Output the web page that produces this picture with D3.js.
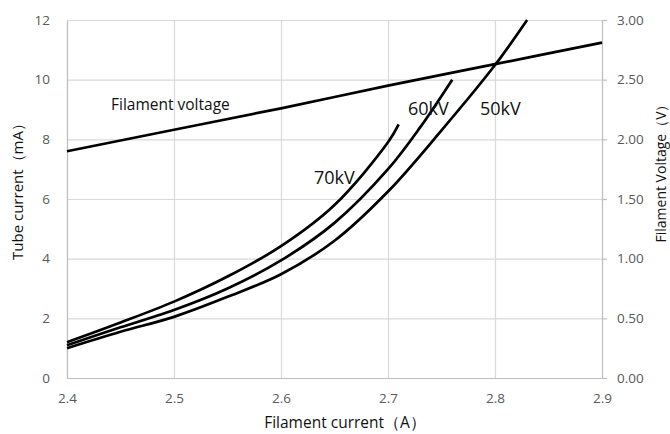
<!DOCTYPE html>
<html>
<head>
<meta charset="utf-8">
<script src="https://cdn.jsdelivr.net/npm/d3@7"></script>
<style>
  html, body { margin: 0; padding: 0; background: #fff; }
  svg text { font-family: "Open Sans", "Noto Sans", sans-serif; }
</style>
</head>
<body>
<svg id="chart" width="670" height="434"></svg>
<script>
// Filament current (A) sample points for each tube voltage
const current70 = [2.40, 2.45, 2.50, 2.55, 2.60, 2.65, 2.70, 2.71];
const tube70    = [1.20, 1.86, 2.56, 3.40, 4.42, 5.80, 7.90, 8.50];

const current60 = [2.40, 2.45, 2.50, 2.55, 2.60, 2.65, 2.70, 2.73, 2.76];
const tube60    = [1.10, 1.70, 2.28, 3.00, 3.94, 5.20, 7.00, 8.40, 10.00];

const current50 = [2.40, 2.45, 2.50, 2.55, 2.60, 2.65, 2.70, 2.75, 2.80, 2.83];
const tube50    = [1.00, 1.55, 2.05, 2.72, 3.48, 4.60, 6.25, 8.30, 10.49, 12.00];

// Filament voltage (V) against filament current
const currentV  = [2.40, 2.50, 2.60, 2.70, 2.80, 2.90];
const voltage   = [1.90, 2.08, 2.26, 2.45, 2.63, 2.81];

const xTicks      = [2.4, 2.5, 2.6, 2.7, 2.8, 2.9];
const yTicks      = [0, 2, 4, 6, 8, 10, 12];
const yRightTicks = [0, 0.5, 1, 1.5, 2, 2.5, 3];

const curveLabels = ["70kV", "60kV", "50kV"];

const svg = d3.select("#chart");
const m = { left: 67, right: 602, top: 20, bottom: 378 };

const x  = d3.scaleLinear().domain([2.4, 2.9]).range([m.left, m.right]);
const y  = d3.scaleLinear().domain([0, 12]).range([m.bottom, m.top]);
const yR = d3.scaleLinear().domain([0, 3]).range([m.bottom, m.top]);

const gridColor = "#d9d9d9";
const tickColor = "#595959";

// horizontal gridlines
svg.append("g")
  .attr("transform", `translate(${m.left},0)`)
  .call(d3.axisLeft(y).tickValues(yTicks).tickSize(-(m.right - m.left)).tickFormat(""))
  .call(g => g.select(".domain").remove())
  .call(g => g.selectAll("line").attr("stroke", gridColor).attr("stroke-width", 1.2));

// vertical gridlines
svg.append("g")
  .attr("transform", `translate(0,${m.bottom})`)
  .call(d3.axisBottom(x).tickValues(xTicks).tickSize(-(m.bottom - m.top)).tickFormat(""))
  .call(g => g.select(".domain").remove())
  .call(g => g.selectAll("line").attr("stroke", gridColor).attr("stroke-width", 1.2));

// left axis
svg.append("g")
  .attr("transform", `translate(${m.left},0)`)
  .call(d3.axisLeft(y).tickValues(yTicks).tickSize(0).tickPadding(17).tickFormat(d3.format("d")))
  .call(g => g.select(".domain").attr("stroke", "#bfbfbf").attr("stroke-width", 1.2))
  .call(g => g.selectAll("text").attr("fill", tickColor).attr("font-size", 13.5));

// bottom axis
svg.append("g")
  .attr("transform", `translate(0,${m.bottom})`)
  .call(d3.axisBottom(x).tickValues(xTicks).tickSize(0).tickPadding(15).tickFormat(d3.format(".1f")))
  .call(g => g.select(".domain").attr("stroke", "#bfbfbf").attr("stroke-width", 1.2))
  .call(g => g.selectAll("text").attr("fill", tickColor).attr("font-size", 13.5));

// right axis
svg.append("g")
  .attr("transform", `translate(${m.right},0)`)
  .call(d3.axisRight(yR).tickValues(yRightTicks).tickSize(5).tickPadding(10).tickFormat(d3.format(".2f")))
  .call(g => g.select(".domain").attr("stroke", "#bfbfbf").attr("stroke-width", 1.2))
  .call(g => g.selectAll("line").attr("stroke", "#bfbfbf").attr("stroke-width", 1.2))
  .call(g => g.selectAll("text").attr("fill", tickColor).attr("font-size", 13.5));

// data lines
const line = (xs, ys, yScale) => d3.line()
  .x((d, i) => x(xs[i]))
  .y(d => yScale(d))
  .curve(d3.curveCatmullRom.alpha(0.5))(ys);

const series = [
  [current70, tube70, y],
  [current60, tube60, y],
  [current50, tube50, y],
  [currentV, voltage, yR]
];
svg.append("g").selectAll("path")
  .data(series)
  .join("path")
  .attr("d", s => line(s[0], s[1], s[2]))
  .attr("fill", "none")
  .attr("stroke", "#000")
  .attr("stroke-width", 2.7)
  .attr("stroke-linejoin", "round");

// in-plot labels
svg.append("text").text("Filament voltage")
  .attr("x", 111).attr("y", 110).attr("font-size", 15.5).attr("fill", "#111");

const labelPos = [[314, 184], [408, 115], [480, 115]];
svg.append("g").selectAll("text")
  .data(curveLabels)
  .join("text")
  .text(d => d)
  .attr("x", (d, i) => labelPos[i][0])
  .attr("y", (d, i) => labelPos[i][1])
  .attr("font-size", 18)
  .attr("fill", "#111");

// axis titles
svg.append("text").text("Filament current（A）")
  .attr("x", 345).attr("y", 428)
  .attr("text-anchor", "middle").attr("font-size", 15.5).attr("fill", "#111");

svg.append("text").text("Tube current（mA）")
  .attr("transform", `translate(23,188) rotate(-90)`)
  .attr("text-anchor", "middle").attr("font-size", 15).attr("fill", "#111");

svg.append("text").text("Filament Voltage（V）")
  .attr("transform", `translate(666,170) rotate(-90)`)
  .attr("text-anchor", "middle").attr("font-size", 14).attr("fill", "#111");
</script>
</body>
</html>
